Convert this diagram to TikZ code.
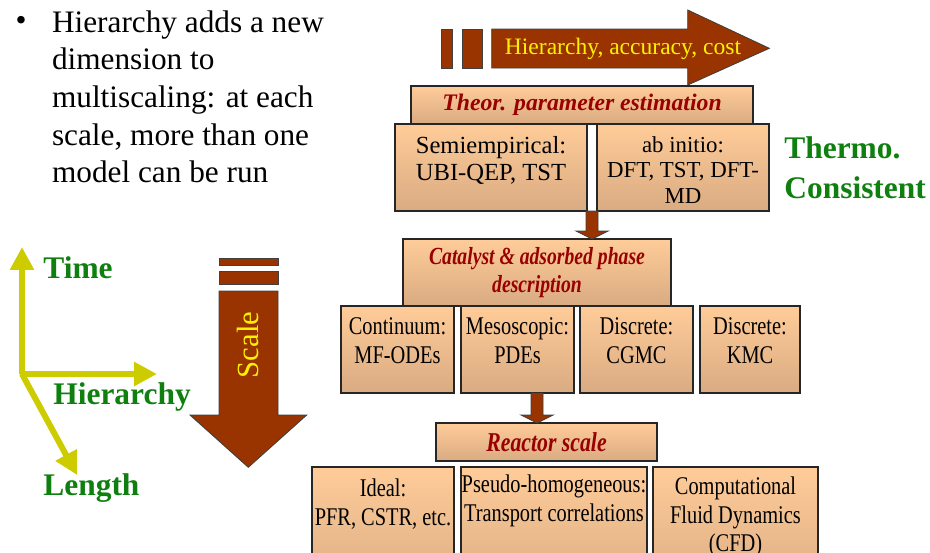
\documentclass[tikz,border=0pt]{standalone}
\usepackage{fontspec}
\setmainfont{Liberation Serif}
\newfontfamily\narrowfont[FakeStretch=0.8]{Liberation Serif}
\usetikzlibrary{positioning,calc,arrows.meta}

\definecolor{brick}{HTML}{993300}
\definecolor{peach}{HTML}{FFCC99}
\definecolor{tanbot}{HTML}{D9AB82}
\definecolor{wine}{HTML}{990000}
\definecolor{leaf}{HTML}{0F800F}
\definecolor{olive}{HTML}{CCCC00}

\def\pxl{0.02cm}
%% short block arrow, from #1 down to the tip #2
\newcommand{\droparrow}[2]{%
  \draw[brickline] ($(#1)+(-6,0)$) -- ($(#2)+(-6,-8)$) -- ($(#2)+(-16,-8)$) -- (#2)
    -- ($(#2)+(16,-8)$) -- ($(#2)+(6,-8)$) -- ($(#1)+(6,0)$) -- cycle;}

\tikzset{
  cell/.style={draw=black!85, line width=0.9pt, top color=peach, bottom color=tanbot,
    anchor=north west, inner sep=0, outer sep=0},
  celltext/.style={inner sep=0, align=center, font=\narrowfont\fontsize{14.5}{16.3}\selectfont},
  toptext/.style={inner sep=0, align=center, font=\fontsize{14}{15.3}\selectfont},
  headtext/.style={text=wine, align=center, font=\narrowfont\bfseries\itshape\fontsize{14}{16.4}\selectfont},
  brickline/.style={fill=brick, draw=black!75, line width=0.5pt},
  axis/.style={draw=olive, line width=3.4pt, ->},
  axislabel/.style={text=leaf, anchor=west, inner sep=0, font=\bfseries\fontsize{17.9}{22.7}\selectfont},
}

\begin{document}
\begin{tikzpicture}[x=0.02cm, y=-0.02cm, >={Triangle[width=13pt,length=13pt]}]
  \useasboundingbox (0,0) rectangle (930,552);
  \clip (0,0) rectangle (930,552);
  %% bullet text
  \node[inner sep=0, font=\fontsize{17.8}{21.4}\selectfont] (dot) at (21,23.5) {\textbullet};
  \node[anchor=north west, inner sep=0, align=left, font=\fontsize{17.8}{21.4}\selectfont] (hint) at (51.7,10.3)
    {Hierarchy adds a new\\dimension to\\multiscaling: at each\\scale, more than one\\model can be run};
  %% axes
  \coordinate (orig) at (22,374);
  \coordinate (tTime) at (22,247);
  \coordinate (tHier) at (157,374);
  \coordinate (tLen) at (77,475);
  \draw[axis] (orig) -- (tTime);
  \draw[axis] (20,374) -- (tHier);
  \draw[axis] (orig) -- (tLen);
  \node[axislabel] (time) at (43,268) {Time};
  \node[axislabel] (hier) at (53,397) {Hierarchy};
  \node[axislabel] (len) at (43,488) {Length};
  %% scale arrow
  \draw[brickline] (219,258) rectangle (278,265) (219,271) rectangle (278,284.5);
  \draw[brickline] (219,291) -- (278,291) -- (278,415) -- (306.7,415) -- (248.3,467.3)
    -- (190,415) -- (219,415) -- cycle;
  \node[rotate=90, text=yellow, inner sep=0, font=\fontsize{17.5}{20}\selectfont] (scl) at (248,345) {Scale};
  %% hierarchy arrow
  \draw[brickline] (441,29) rectangle (452,68) (462,29) rectangle (482,68);
  \draw[brickline] (491.7,29) -- (687.7,29) -- (687.7,10) -- (769.3,48.3) -- (687.7,85)
    -- (687.7,68) -- (491.7,68) -- cycle;
  \node[text=yellow, inner sep=0, font=\fontsize{13.4}{16}\selectfont] (hac) at (623,48.5) {Hierarchy, accuracy, cost};
  %% boxes
  \foreach \nm/\xa/\ya/\xb/\yb in {semi/395/124/587/211, abinit/597/124/769/211,
      cont/341/306/454/393, meso/461/306/574/393, cgmc/580/306/693/393, kmc/700/306/800/393,
      ideal/312/467/454/600, pseudo/461/467/647/600, cfd/653/467/818/600}
    \node[cell, minimum width=(\xb-\xa)*\pxl, minimum height=(\yb-\ya)*\pxl] (\nm) at (\xa,\ya) {};
  \node[cell, minimum width=342*\pxl, minimum height=38*\pxl, text=wine,
    font=\bfseries\itshape\fontsize{13.5}{16}\selectfont] (theor) at (411,86) {Theor. parameter estimation};
  \node[cell, minimum width=268*\pxl, minimum height=67*\pxl, headtext] (cat) at (403,239)
    {Catalyst \& adsorbed phase\\description};
  \node[cell, minimum width=221*\pxl, minimum height=38*\pxl, headtext,
    font=\narrowfont\bfseries\itshape\fontsize{15.5}{18}\selectfont] (reactor) at (436,423) {Reactor scale};
  %% box texts
  \node[toptext, below=6.8pt of semi.north] (semitxt) {Semiempirical:\\UBI-QEP, TST};
  \node[toptext, below=6.8pt of abinit.north, font=\fontsize{13}{14.7}\selectfont] (abtxt) {ab initio:\\DFT, TST, DFT-\\MD};
  \node[celltext, below=6.4pt of cont.north] (conttxt) {Continuum:\\MF-ODEs};
  \node[celltext, below=6.4pt of meso.north] (mesotxt) {Mesoscopic:\\PDEs};
  \node[celltext, below=6.4pt of cgmc.north] (cgmctxt) {Discrete:\\CGMC};
  \node[celltext, below=6.4pt of kmc.north] (kmctxt) {Discrete:\\KMC};
  \node[celltext, below=6.5pt of ideal.north] (idealtxt) {Ideal:\\PFR, CSTR, etc.};
  \node[celltext, below=4.5pt of pseudo.north] (pseudotxt) {Pseudo-homogeneous:\\Transport correlations};
  \node[celltext, below=5.5pt of cfd.north] (cfdtxt) {Computational\\Fluid Dynamics\\(CFD)};
  %% connectors
  \coordinate (a1) at ($(semi.south east)!.5!(abinit.south west)$);
  \coordinate (b1) at (a1 |- cat.north);
  \droparrow{a1}{b1}
  \coordinate (a2) at (cat.south |- meso.south);
  \coordinate (b2) at (a2 |- reactor.north);
  \droparrow{a2}{b2}
  %% side label
  \node[axislabel, anchor=north west, align=left] (thermo) at (784,136) {Thermo.\\Consistent};
\end{tikzpicture}
\end{document}
